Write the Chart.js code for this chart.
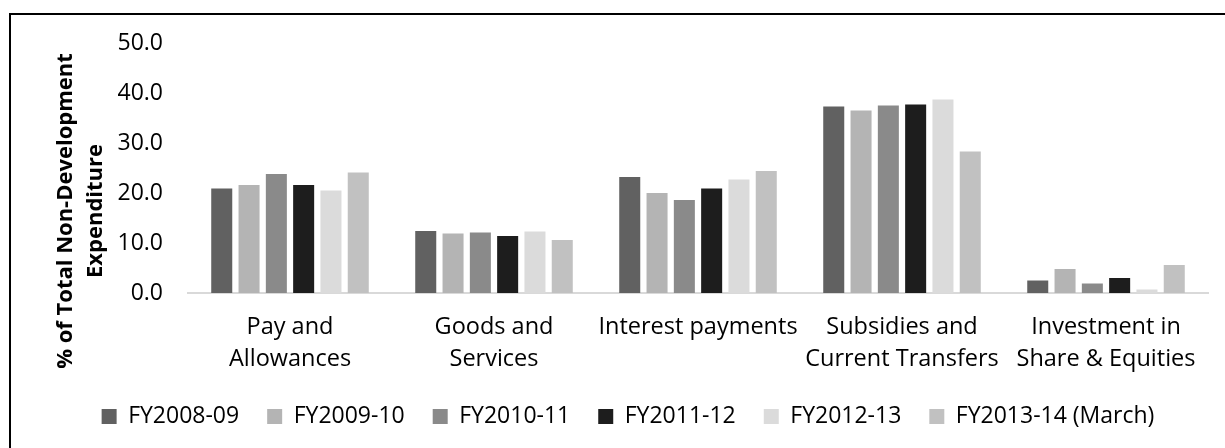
<!DOCTYPE html>
<html>
<head>
<meta charset="utf-8">
<script src="https://cdn.jsdelivr.net/npm/chart.js@4.4.0/dist/chart.umd.min.js"></script>
<style>
  html, body { margin: 0; padding: 0; background: #fff; }
  #wrap { position: relative; width: 1225px; height: 448px; overflow: hidden; }
  #frame { position: absolute; left: 9px; top: 13px; right: -10px; bottom: -10px; border-left: 2px solid #000; border-top: 2px solid #000; }
  canvas { position: absolute; left: 0; top: 0; }
</style>
</head>
<body>
<div id="wrap">
  <div id="frame"></div>
  <canvas id="expenditureChart" width="1225" height="448"></canvas>
</div>
<script>
// Expenditure heads on the x axis
const categories = [
    ['Pay and', 'Allowances'],
    ['Goods and', 'Services'],
    'Interest payments',
    ['Subsidies and', 'Current Transfers'],
    ['Investment in', 'Share & Equities']
];

const seriesLabels = ['FY2008-09', 'FY2009-10', 'FY2010-11', 'FY2011-12', 'FY2012-13', 'FY2013-14 (March)'];

// % of total non-development expenditure, per fiscal year
const fy0809 = [20.9, 12.4, 23.2, 37.3, 2.5];
const fy0910 = [21.6, 11.9, 20.0, 36.5, 4.8];
const fy1011 = [23.8, 12.1, 18.6, 37.5, 1.9];
const fy1112 = [21.6, 11.4, 20.9, 37.7, 3.0];
const fy1213 = [20.5, 12.3, 22.7, 38.7, 0.7];
const fy1314 = [24.1, 10.6, 24.4, 28.3, 5.6];

const seriesValues = [fy0809, fy0910, fy1011, fy1112, fy1213, fy1314];
const seriesColors = ['#616161', '#b4b4b4', '#8a8a8a', '#1d1d1d', '#dbdbdb', '#c1c1c1'];

const yMin = 0;
const yMax = 50;
const yStep = 10;

const axisTitleLines = ['% of Total Non-Development', 'Expenditure'];

const FONT = '"Open Sans", "DejaVu Sans", sans-serif';

// y axis title, centred on the whole plot block rather than the axis
const yTitlePlugin = {
    id: 'yTitle',
    afterDraw(chart) {
        const ctx = chart.ctx;
        ctx.save();
        ctx.font = 'bold 22px ' + FONT;
        ctx.fillStyle = '#000';
        ctx.textAlign = 'center';
        ctx.textBaseline = 'alphabetic';
        ctx.translate(72, 211);
        ctx.rotate(-Math.PI / 2);
        axisTitleLines.forEach((line, i) => ctx.fillText(line, 0, i * 30));
        ctx.restore();
    }
};

const ctx = document.getElementById('expenditureChart').getContext('2d');
new Chart(ctx, {
    type: 'bar',
    data: {
        labels: categories,
        datasets: seriesLabels.map((label, i) => ({
            label: label,
            data: seriesValues[i],
            backgroundColor: seriesColors[i],
            borderWidth: 0,
            categoryPercentage: 0.803,
            barPercentage: 0.77
        }))
    },
    options: {
        responsive: false,
        animation: false,
        layout: {
            padding: { left: 31, right: 0, top: 43, bottom: 10 }
        },
        plugins: {
            legend: {
                position: 'bottom',
                labels: {
                    boxWidth: 15,
                    boxHeight: 15,
                    padding: 28,
                    color: '#000',
                    font: { family: FONT, size: 23 }
                }
            },
            tooltip: { enabled: false }
        },
        scales: {
            x: {
                grid: { display: false, drawTicks: false },
                border: { display: true, color: '#d9d9d9', width: 2 },
                ticks: {
                    color: '#000',
                    padding: 18,
                    maxRotation: 0,
                    autoSkip: false,
                    font: { family: FONT, size: 23.5, lineHeight: 32 / 23.5 }
                },
                afterFit(scale) { scale.height = 84; }
            },
            y: {
                min: yMin,
                max: yMax,
                grid: { display: false, drawTicks: false },
                border: { display: false },
                ticks: {
                    stepSize: yStep,
                    color: '#000',
                    padding: 25,
                    font: { family: FONT, size: 23 },
                    callback: v => v.toFixed(1)
                },
                afterFit(scale) { scale.width = 157; }
            },
            // empty strip on the right so the plot stops short of the edge
            spacer: {
                position: 'right',
                grid: { display: false, drawTicks: false },
                border: { display: false },
                ticks: { display: false },
                afterFit(scale) { scale.width = 17; }
            }
        }
    },
    plugins: [yTitlePlugin]
});
</script>
</body>
</html>
